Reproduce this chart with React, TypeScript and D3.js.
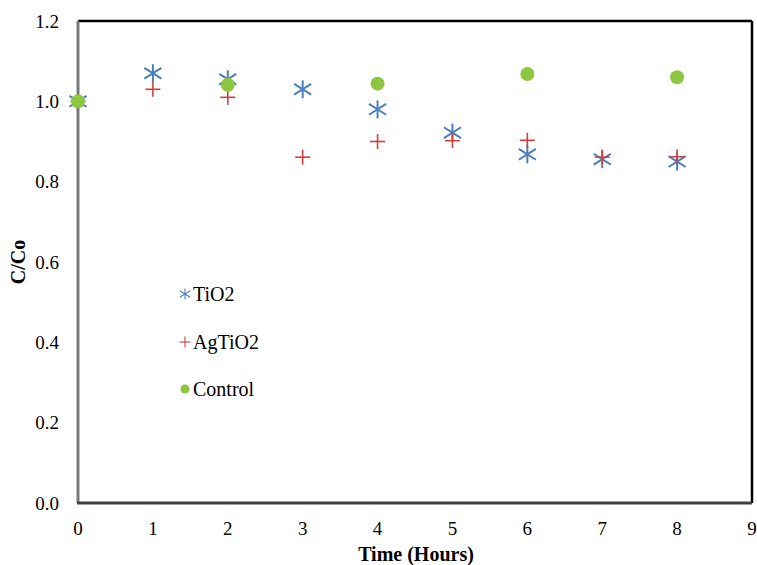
import React from "react";
import * as d3 from "d3";

const hours = [0, 1, 2, 3, 4, 5, 6, 7, 8];
const tio2 = [1.0, 1.07, 1.055, 1.03, 0.98, 0.922, 0.868, 0.856, 0.85];
const agtio2 = [1.0, 1.03, 1.01, 0.861, 0.9, 0.902, 0.903, 0.861, 0.862];
const controlHours = [0, 2, 4, 6, 8];
const control = [1.0, 1.041, 1.044, 1.068, 1.06];
const xTicks = [0, 1, 2, 3, 4, 5, 6, 7, 8, 9];
const yTicks = [0, 0.2, 0.4, 0.6, 0.8, 1.0, 1.2];

const W = 757;
const H = 565;
const left = 78;
const right = 752;
const top = 21;
const bottom = 503;

const BLUE = "#4a7ebb";
const RED = "#d0403c";
const GREEN = "#8dc63f";
const FONT = "Liberation Serif, Times New Roman, Times, serif";
const txt = { fontFamily: FONT } as React.CSSProperties;

function Asterisk({ x, y, s, sw }: { x: number; y: number; s: number; sw: number }) {
  const h = s / 2;
  const dx = h * 0.95;
  const dy = h * 0.6;
  return (
    <g stroke={BLUE} strokeWidth={sw} fill="none">
      <line x1={x - dx} y1={y - dy} x2={x + dx} y2={y + dy} />
      <line x1={x - dx} y1={y + dy} x2={x + dx} y2={y - dy} />
      <line x1={x} y1={y - h} x2={x} y2={y + h} />
    </g>
  );
}

function Plus({ x, y, s, sw }: { x: number; y: number; s: number; sw: number }) {
  const h = s / 2;
  return (
    <g stroke={RED} strokeWidth={sw} fill="none">
      <line x1={x - h} y1={y} x2={x + h} y2={y} />
      <line x1={x} y1={y - h} x2={x} y2={y + h} />
    </g>
  );
}

export default function App() {
  const x = d3.scaleLinear().domain([0, 9]).range([left, right]);
  const y = d3.scaleLinear().domain([0, 1.2]).range([bottom, top]);
  const fmt = d3.format(".1f");

  return (
    <svg
      width={W}
      height={H}
      style={{ position: "absolute", left: 0, top: 0, background: "#fff", fontFamily: FONT }}
    >
      <rect x={0} y={0} width={W} height={H} fill="#fff" />
      {/* plot frame */}
      <line x1={left} y1={top} x2={right} y2={top} stroke="#000" strokeWidth={2.5} />
      <line x1={right} y1={top} x2={right} y2={bottom} stroke="#000" strokeWidth={2.5} />
      <line x1={left} y1={top} x2={left} y2={bottom} stroke="#7a7a7a" strokeWidth={3} />
      <line x1={left - 1} y1={bottom} x2={right} y2={bottom} stroke="#404040" strokeWidth={3} />

      {/* y tick labels */}
      {yTicks.map((t) => (
        <text
          key={"y" + t}
          x={59}
          y={y(t)}
          textAnchor="end"
          dominantBaseline="central"
          fontSize={19}
          fill="#000"
          style={txt}
        >
          {fmt(t)}
        </text>
      ))}
      {/* x tick labels */}
      {xTicks.map((t) => (
        <text
          key={"x" + t}
          x={x(t)}
          y={528}
          textAnchor="middle"
          dominantBaseline="central"
          fontSize={19}
          fill="#000"
          style={txt}
        >
          {t}
        </text>
      ))}

      {/* axis titles */}
      <text
        x={(left + right) / 2 + 1}
        y={554}
        textAnchor="middle"
        dominantBaseline="central"
        fontSize={20}
        fontWeight="bold"
        style={txt}
      >
        Time (Hours)
      </text>
      <text
        transform={`translate(18, ${(top + bottom) / 2}) rotate(-90)`}
        textAnchor="middle"
        dominantBaseline="central"
        fontSize={20}
        fontWeight="bold"
        style={txt}
      >
        C/Co
      </text>

      {/* series */}
      {hours.map((h, i) => (
        <Asterisk key={"t" + i} x={x(h)} y={y(tio2[i])} s={18} sw={2} />
      ))}
      {hours.map((h, i) => (
        <Plus key={"a" + i} x={x(h)} y={y(agtio2[i])} s={15} sw={1.6} />
      ))}
      {controlHours.map((h, i) => (
        <circle key={"c" + i} cx={x(h)} cy={y(control[i])} r={7} fill={GREEN} />
      ))}

      {/* legend */}
      <Asterisk x={185} y={294} s={11} sw={1.1} />
      <text x={193} y={294} dominantBaseline="central" fontSize={20} style={txt}>TiO2</text>
      <Plus x={185} y={342} s={11} sw={1.1} />
      <text x={193} y={342} dominantBaseline="central" fontSize={20} style={txt}>AgTiO2</text>
      <circle cx={185} cy={389} r={4.5} fill={GREEN} />
      <text x={193} y={389} dominantBaseline="central" fontSize={20} style={txt}>Control</text>
    </svg>
  );
}
